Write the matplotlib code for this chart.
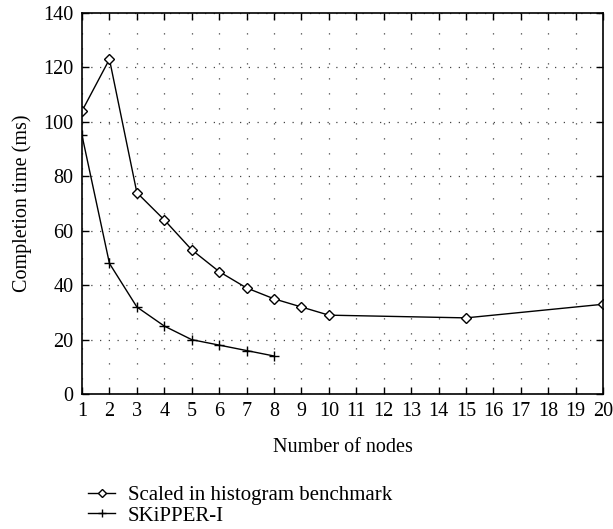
import matplotlib.pyplot as plt
from matplotlib.ticker import MultipleLocator

plt.rcParams['font.family'] = ['Liberation Serif', 'DejaVu Serif']

nodes_hist = [1, 2, 3, 4, 5, 6, 7, 8, 9, 10, 15, 20]
time_hist = [104, 123, 74, 64, 53, 45, 39, 35, 32, 29, 28, 33]
nodes_skipper = [1, 2, 3, 4, 5, 6, 7, 8]
time_skipper = [95, 48, 32, 25, 20, 18, 16, 14]
labels = ['Scaled in histogram benchmark', 'SKiPPER-I']

fig = plt.figure(figsize=(6.13, 5.29), dpi=100)
ax = fig.add_axes([0.1338, 0.255, 0.85, 0.7205])

l1, = ax.plot(nodes_hist, time_hist, color='black', lw=1.0, marker='D',
              markersize=5.5, markerfacecolor='white', markeredgewidth=1.0,
              label=labels[0])
l2, = ax.plot(nodes_skipper, time_skipper, color='black', lw=1.0, marker='+',
              markersize=7, markeredgewidth=1.0, label=labels[1])

ax.set_xlim(1, 20)
ax.set_ylim(0, 140)
ax.xaxis.set_major_locator(MultipleLocator(1))
ax.yaxis.set_major_locator(MultipleLocator(20))

ax.grid(axis='y', color='#444444', linestyle=(0, (1, 6)), lw=0.9)
ax.grid(axis='x', color='#444444', linestyle=(0, (1, 11)), lw=0.9)

ax.tick_params(direction='in', top=True, right=True, length=5, width=1,
               labelsize=14.5, pad=6)
for s in ax.spines.values():
    s.set_linewidth(1.2)

ax.set_xlabel('Number of nodes', fontsize=14.5, labelpad=12)
ax.set_ylabel('Completion time (ms)', fontsize=14.5, labelpad=8)

fig.legend(handles=[l1, l2], loc='upper left', bbox_to_anchor=(0.13, 0.098),
           frameon=False, fontsize=15, handlelength=1.3, handletextpad=0.6,
           labelspacing=0.05, borderaxespad=0, markerscale=0.75)

fig.savefig('out.png', dpi=100)
